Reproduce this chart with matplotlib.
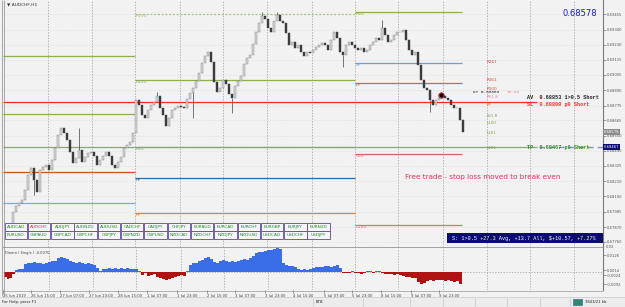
import matplotlib
matplotlib.use("Agg")
import matplotlib.pyplot as plt
from matplotlib.patches import Rectangle
import numpy as np

plt.rcParams['font.family'] = ['DejaVu Sans']

# ---- data ----
# AUDCHF H1 closes (one sample per ~1.6 bars)
closes = [
    0.67885, 0.67982, 0.68027, 0.68049, 0.68071, 0.68146, 0.68258, 0.68310, 0.68220, 0.68131,
    0.68295, 0.68317, 0.68332, 0.68295, 0.68369, 0.68459, 0.68556, 0.68608, 0.68571, 0.68518,
    0.68429, 0.68347, 0.68384, 0.68444, 0.68354, 0.68392, 0.68421, 0.68429, 0.68399, 0.68332,
    0.68369, 0.68399, 0.68429, 0.68399, 0.68332, 0.68310, 0.68354, 0.68392, 0.68459, 0.68481,
    0.68504, 0.68571, 0.68817, 0.68779, 0.68705, 0.68682, 0.68742, 0.68779, 0.68802, 0.68846,
    0.68757, 0.68705, 0.68623, 0.68682, 0.68742, 0.68757, 0.68772, 0.68764, 0.68757, 0.68824,
    0.68869, 0.68906, 0.68958, 0.69018, 0.69092, 0.69145, 0.69174, 0.69100, 0.68951, 0.68876,
    0.68906, 0.68966, 0.68936, 0.68861, 0.68831, 0.68921, 0.68958, 0.68996, 0.69085, 0.69130,
    0.69152, 0.69234, 0.69323, 0.69391, 0.69443, 0.69420, 0.69353, 0.69323, 0.69406, 0.69450,
    0.69406, 0.69391, 0.69316, 0.69227, 0.69249, 0.69204, 0.69227, 0.69174, 0.69145, 0.69174,
    0.69167, 0.69189, 0.69212, 0.69227, 0.69241, 0.69227, 0.69189, 0.69264, 0.69323, 0.69279,
    0.69174, 0.69152, 0.69227, 0.69249, 0.69227, 0.69204, 0.69189, 0.69204, 0.69174, 0.69189,
    0.69227, 0.69249, 0.69279, 0.69264, 0.69353, 0.69301, 0.69249, 0.69264, 0.69301, 0.69323,
    0.69323, 0.69338, 0.69264, 0.69189, 0.69152, 0.69174, 0.69077, 0.68966, 0.68906, 0.68891,
    0.68817, 0.68779, 0.68817, 0.68831, 0.68846, 0.68831, 0.68817, 0.68779, 0.68757, 0.68757,
    0.68667, 0.68578,
]
# long wicks
spike_idx = [8, 23, 49, 61, 74, 84, 89, 111, 124, 140]
spike_price = [0.68108, 0.68608, 0.68876, 0.68682, 0.68720, 0.69473, 0.69473, 0.69063, 0.69413, 0.68727]

# oscillator sub window, first bar sits two samples left of closes[0]
osc = [
    -0.0038, -0.0053, -0.0045, -0.0015, 0.0015, 0.0023, 0.0023, 0.0060, 0.0068, 0.0068,
    0.0075, 0.0068, 0.0068, 0.0060, 0.0068, 0.0075, 0.0083, 0.0083, 0.0105, 0.0113,
    0.0105, 0.0098, 0.0083, 0.0075, 0.0068, 0.0075, 0.0068, 0.0060, 0.0068, 0.0060,
    0.0053, 0.0030, 0.0008, 0.0023, 0.0023, 0.0030, 0.0023, 0.0030, 0.0023, 0.0030,
    0.0023, 0.0030, 0.0023, 0.0023, 0.0023, 0.0008, -0.0023, -0.0008, -0.0030, -0.0023,
    -0.0015, -0.0038, -0.0045, -0.0053, -0.0060, -0.0053, -0.0045, -0.0038, -0.0030, -0.0023,
    -0.0030, 0.0008, 0.0053, 0.0068, 0.0068, 0.0083, 0.0090, 0.0105, 0.0113, 0.0098,
    0.0075, 0.0068, 0.0083, 0.0090, 0.0083, 0.0075, 0.0083, 0.0075, 0.0083, 0.0090,
    0.0098, 0.0090, 0.0105, 0.0120, 0.0143, 0.0150, 0.0150, 0.0158, 0.0165, 0.0165,
    0.0173, 0.0180, 0.0173, 0.0068, 0.0053, 0.0045, 0.0045, 0.0038, 0.0023, 0.0015,
    0.0023, 0.0015, 0.0023, 0.0030, 0.0038, 0.0038, 0.0038, 0.0045, 0.0045, 0.0038,
    0.0045, 0.0053, 0.0030, -0.0008, -0.0008, -0.0008, 0.0004, -0.0008, -0.0008, -0.0015,
    -0.0008, 0.0008, 0.0008, -0.0008, 0.0008, 0.0008, -0.0008, -0.0015, -0.0015, -0.0015,
    -0.0023, -0.0015, -0.0023, -0.0030, -0.0038, -0.0038, -0.0045, -0.0045, -0.0075, -0.0090,
    -0.0083, -0.0068, -0.0060, -0.0068, -0.0060, -0.0060, -0.0060, -0.0068, -0.0060, -0.0068,
    -0.0075, -0.0068, -0.0090,
]
osc_offset = -2

price_ticks = [0.69455, 0.69340, 0.69230, 0.69115, 0.69005, 0.68890, 0.68775, 0.68665,
               0.68550, 0.68440, 0.68325, 0.68210, 0.68100, 0.67985, 0.67870, 0.67760]
osc_ticks = [0.0126, 0.0014, -0.0024, -0.0092]

date_labels = ["25 Jun 2019", "26 Jun 15:00", "27 Jun 07:00", "27 Jun 23:00", "28 Jun 15:00",
               "1 Jul 07:00", "1 Jul 23:00", "2 Jul 15:00", "3 Jul 07:00", "3 Jul 23:00",
               "4 Jul 15:00", "5 Jul 07:00", "5 Jul 23:00", "8 Jul 15:00", "9 Jul 07:00",
               "9 Jul 23:00"]
date_pos = [-2.67, 6.67, 16.33, 26.0, 35.67, 45.33, 55.33, 65.33, 74.67, 84.67,
            94.0, 104.67, 114.0, 123.67, 133.67, 143.0]
day_lines = [12.67, 27.33, 41.67, 56.67, 71.0, 85.67, 100.67, 115.0, 129.33, 144.33,
             159.0, 173.33, 188.0]

# pivot levels per day segment
seg_bounds = [-2.33, 41.67, 115.0, 150.67]
left_levels = [0.69145, 0.68712, 0.68280, 0.68049]
mid_levels = [0.69458, 0.68966, 0.68467, 0.68235, 0.67974]
mid_names = ["R150", "R100", "R50", "PP", "PP"]
right_levels = [0.69473, 0.69092, 0.68943, 0.68414, 0.67885]
right_names = ["R50", "SP", "RP", "C50", "C100"]

fib_names = ["R261", "R161", "R100", "R61.8", "PP", "L61.8", "L100", "L161", "L261"]
fib_prices = [0.69100, 0.68966, 0.68899, 0.68842, 0.68779, 0.68697, 0.68645, 0.68571, 0.68459]

bid = 0.68578
av_price = 0.68853
sl_price = 0.68800
tp_price = 0.68467
entry_idx, entry_price = 143.67, 0.68854

row1 = ["AUDCAD", "AUDCHF", "AUDJPY", "AUDNZD", "AUDUSD", "CADCHF", "CADJPY",
        "CHFJPY", "EURAUD", "EURCAD", "EURCHF", "EURGBP", "EURJPY", "EURNZD"]
row2 = ["EURUSD", "GBPAUD", "GBPCAD", "GBPCHF", "GBPJPY", "GBPNZD", "GBPUSD",
        "NZDCAD", "NZDCHF", "NZDJPY", "NZDUSD", "USDCAD", "USDCHF", "USDJPY"]
summary = "S: 1>0.5 +27.3 Avg, +13.7 All, $+10.57, +7.27%"

# ---- layout ----
W, H = 625, 307
BG = '#f2f2f2'
GREEN = '#8fae4f'
MONO = 'Liberation Mono'


def frac(x0, y0, x1, y1):
    return [x0 / W, 1 - y1 / H, (x1 - x0) / W, (y1 - y0) / H]


fig = plt.figure(figsize=(W / 100, H / 100), dpi=100)
fig.patch.set_facecolor(BG)

ax = fig.add_axes(frac(3, 0, 603, 247))
sub = fig.add_axes(frac(3, 248, 603, 290))
xlim = (-2.33, 197.67)

for a in (ax, sub):
    a.set_facecolor(BG)
    a.set_xlim(*xlim)
    for s in ('top', 'left', 'bottom'):
        a.spines[s].set_visible(False)
    a.spines['right'].set_color('#7a7a7a')
    a.spines['right'].set_linewidth(0.8)
    a.yaxis.tick_right()
    a.tick_params(axis='y', labelsize=2.7, length=2, width=0.4, pad=1, colors='#555555')
    for d in day_lines:
        a.axvline(d, color='#9a9a9a', lw=0.5, ls=(0, (2, 2)), zorder=0)

# main price window
ax.set_ylim(0.67721, 0.69562)
ax.set_yticks(price_ticks, [f"{p:.5f}" for p in price_ticks])
ax.set_xticks([])
for p in price_ticks:
    ax.axhline(p, color='#d6d6d6', lw=0.4, ls=(0, (1.5, 2)), zorder=0)

# pivot segments
left_colors = [GREEN, GREEN, '#c8561a', '#82aad2']
for lvl, c in zip(left_levels, left_colors):
    ax.hlines(lvl, seg_bounds[0], seg_bounds[1], color=c, lw=0.9, zorder=1)

mid_colors = ['#a9c27a', GREEN, '#88a878', '#2a6aa8', '#d8864a']
for i, (lvl, name, c) in enumerate(zip(mid_levels, mid_names, mid_colors)):
    ls = (0, (1.5, 1.5)) if i == 0 else '-'
    ax.hlines(lvl, seg_bounds[1], seg_bounds[2], color=c, lw=0.9, ls=ls, zorder=1)
    ax.text(seg_bounds[1] + 0.2, lvl, name, color=c, fontsize=3.2, va='top', ha='left')

right_colors = [GREEN, '#6d9fcf', '#c8703a', '#d06666', '#c87a7a']
for lvl, name, c in zip(right_levels, right_names, right_colors):
    ax.hlines(lvl, seg_bounds[2], seg_bounds[3], color=c, lw=0.9, zorder=1)
    ax.text(seg_bounds[2] + 0.2, lvl, name, color=c, fontsize=3.2, va='top', ha='left')

# trade lines
ax.hlines(sl_price, xlim[0], 175.7, color='#ff2a2a', lw=0.9, zorder=1)
ax.hlines(tp_price, xlim[0], 175.7, color='#88a878', lw=0.9, zorder=1)
ax.hlines(tp_price, 176.5, xlim[1], color='#8c8cc8', lw=1.0, ls=(0, (4, 3)), zorder=1)

# candles
x = np.arange(len(closes))
c = np.array(closes)
o = np.r_[c[0], c[:-1]]
body = np.maximum(np.abs(c - o), 0.00003)
up = c >= o
ax.vlines(spike_idx, [closes[i] for i in spike_idx], spike_price, color='#606060', lw=0.6, zorder=2)
ax.bar(x[up], body[up], bottom=np.minimum(o, c)[up], width=0.65, color='#d8d8d8',
       edgecolor='#7a7a7a', lw=0.3, zorder=3)
ax.bar(x[~up], body[~up], bottom=np.minimum(o, c)[~up], width=0.65, color='#3c3c3c',
       edgecolor='#3c3c3c', lw=0.3, zorder=3)

# entry marker
ax.scatter([entry_idx], [entry_price], s=16, color='#e02222', edgecolor='#802020', lw=0.4, zorder=5)
ax.scatter([entry_idx], [entry_price], s=3, color='black', zorder=6)

# fib labels on the right
fib_colors = ['#d04848'] * 3 + ['#f08888', '#e07a30'] + ['#7ea24a'] * 4
for name, p, col in zip(fib_names, fib_prices, fib_colors):
    ax.text(159.0, p, name, color=col, fontsize=3.0, va='center', ha='left', zorder=4)

ax.text(154.3, 0.68878, "DT 0.68853", color='#202020', fontsize=3.2, family=MONO,
        va='center', ha='left', zorder=4)
ax.text(165.6, 0.68878, "00.5D", color='#f09090', fontsize=3.2, family=MONO,
        va='center', ha='left', zorder=4)
ax.text(172.3, 0.68833, "AV  0.68853 1>0.5 Short", color='#202020', fontsize=3.7,
        family=MONO, weight='bold', va='center', ha='left', zorder=4)
ax.text(172.3, 0.68780, "SL  0.68800 p0 Short", color='#ff2a2a', fontsize=3.7,
        family=MONO, weight='bold', va='center', ha='left', zorder=4)
ax.text(172.3, tp_price - 0.00004, "TP  0.68467 p0 Short", color='#2a8a2a', fontsize=3.7,
        family=MONO, weight='bold', va='center', ha='left', zorder=4)

# price boxes on the axis
tr = ax.get_yaxis_transform()
ax.text(1.002, bid, "0.68578", transform=tr, fontsize=2.7, color='white', va='center',
        ha='left', bbox=dict(boxstyle='square,pad=0.2', fc='#8c8c8c', ec='none'), zorder=6,
        clip_on=False)
ax.text(1.002, tp_price, "0.68467", transform=tr, fontsize=2.7, color='white', va='center',
        ha='left', bbox=dict(boxstyle='square,pad=0.2', fc='#0c0c70', ec='none'), zorder=6,
        clip_on=False)

# oscillator window
sub.set_ylim(-0.0135, 0.018)
ox = np.arange(len(osc)) + osc_offset
ov = np.array(osc)
sub.bar(ox, ov, width=1.0, color=np.where(ov >= 0, '#3a6ee8', '#b01212'), lw=0, zorder=2)
sub.axhline(0.0002, color='#a0a0a0', lw=0.5, ls=(0, (2, 2)), zorder=1)
sub.set_yticks(osc_ticks, [f"{t:.4f}" for t in osc_ticks])
sub.set_xticks(date_pos, date_labels)
sub.tick_params(axis='x', labelsize=2.7, length=2, width=0.4, pad=1, colors='#444444')
for lab in sub.get_xticklabels():
    lab.set_ha('left')

# ---- window chrome (pixel coordinates) ----
ui = fig.add_axes([0, 0, 1, 1], zorder=10)
ui.set_xlim(0, W)
ui.set_ylim(H, 0)
ui.axis('off')
ui.patch.set_alpha(0)

ui.vlines([1.5, 3.5], 0, 296, color='#8a8a8a', lw=0.5)
ui.add_patch(Rectangle((3, 246.8), 600, 1.4, fc='#a4a4a4', ec='none'))
ui.hlines(290.5, 3, 603, color='#9a9a9a', lw=0.5)
ui.text(7, 4, "\u25bc AUDCHF,H1", fontsize=3.2, color='#333333', va='center', ha='left')
ui.text(597, 14, "0.68578", fontsize=6, color='#1a1ad6', va='center', ha='right')
ui.text(405, 177, "Free trade - stop loss moved to break even", fontsize=5.2,
        color='#e8305a', va='center', ha='left')
ui.text(5, 253, "Dinero ( Single ) -0.0070", fontsize=2.6, color='#444444', va='center')
ui.text(606, 246.5, "0.02", fontsize=2.7, color='#555555', va='center')

for row, y0 in ((row1, 223), (row2, 231.3)):
    for k, name in enumerate(row):
        x0 = 4.5 + 23.3 * k
        ui.add_patch(Rectangle((x0, y0), 22.4, 7.6, fc='#f6f6fc', ec='#5a4aa8', lw=0.6))
        ui.text(x0 + 11.2, y0 + 3.9, name, fontsize=3.1, ha='center', va='center',
                color='#ff2020' if name == "AUDCHF" else '#1e8a1e')

ui.add_patch(Rectangle((447, 233), 156, 10, fc='#0c0c70', ec='none'))
ui.text(452, 238.2, summary, fontsize=3.7, family=MONO, color='white', va='center', ha='left')

# status bar
ui.add_patch(Rectangle((0, 296.5), W, 10.5, fc='#ececec', ec='none'))
ui.hlines(296.5, 0, W, color='#c8c8c8', lw=0.5)
ui.vlines([313, 363, 410, 443, 475, 507, 540, 570], 298, 306, color='#c4c4c4', lw=0.5)
ui.text(2, 302, "For Help, press F1", fontsize=2.7, color='#222222', va='center')
ui.text(316, 302, "BTB", fontsize=2.7, color='#222222', va='center')
ui.add_patch(Rectangle((573, 298.5), 9, 6.5, fc='#2e8a6a', ec='#3050a0', lw=0.4))
ui.text(585, 302, "3843/21 kb", fontsize=2.7, color='#222222', va='center')

fig.savefig("out.png", dpi=100, facecolor=fig.get_facecolor())
